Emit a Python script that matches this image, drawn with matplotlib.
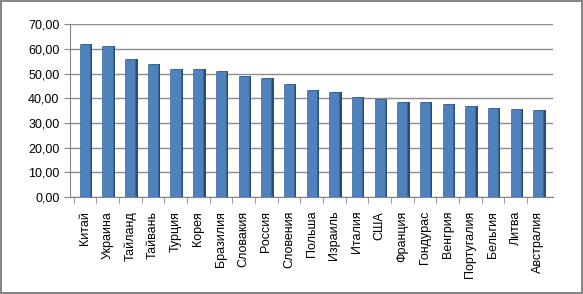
import matplotlib.pyplot as plt
from matplotlib.ticker import FuncFormatter, MultipleLocator

countries = ['Китай', 'Украина', 'Тайланд', 'Тайвань', 'Турция', 'Корея', 'Бразилия',
             'Словакия', 'Россия', 'Словения', 'Польша', 'Израиль', 'Италия', 'США',
             'Франция', 'Гондурас', 'Венгрия', 'Португалия', 'Бельгия', 'Литва', 'Австралия']
values = [62.0, 61.0, 56.0, 54.0, 52.0, 51.8, 51.0, 49.0, 48.3, 45.8, 43.3, 42.5,
          40.5, 39.7, 38.6, 38.3, 37.8, 36.7, 36.0, 35.6, 35.2]

plt.rcParams['font.family'] = ['Liberation Sans', 'DejaVu Sans']

fig = plt.figure(figsize=(5.83, 2.94), dpi=100, edgecolor='#868686', linewidth=1.5)
ax = fig.add_axes([0.12, 0.33, 0.829, 0.588])

x = list(range(len(countries)))
# darker side face for a slight 3D look, then the front face
ax.bar([i + 0.1 for i in x], values, width=0.45, color='#2c4d75', zorder=2)
ax.bar(x, values, width=0.45, color='#4f81bd', edgecolor='#3a6596', linewidth=0.5, zorder=3)

ax.set_xlim(-0.66, len(countries) - 0.34)
ax.set_ylim(0, 70)
ax.yaxis.set_major_locator(MultipleLocator(10))
ax.yaxis.set_major_formatter(FuncFormatter(lambda v, p: ('%.2f' % v).replace('.', ',')))
ax.grid(axis='y', color='#8c8c8c', linewidth=1, zorder=0)

ax.set_xticks(x)
ax.set_xticklabels(countries, rotation=90, fontsize=9)
ax.set_xticks([i + 0.5 for i in x[:-1]] + [-0.5], minor=True)
ax.tick_params(axis='x', which='major', length=0, pad=10)
ax.tick_params(axis='x', which='minor', length=4, color='#868686')
ax.tick_params(axis='y', labelsize=9, length=4, color='#868686')

for s in ['top', 'right']:
    ax.spines[s].set_visible(False)
for s in ['left', 'bottom']:
    ax.spines[s].set_color('#868686')

fig.savefig('out.png', dpi=100, edgecolor=fig.get_edgecolor())
